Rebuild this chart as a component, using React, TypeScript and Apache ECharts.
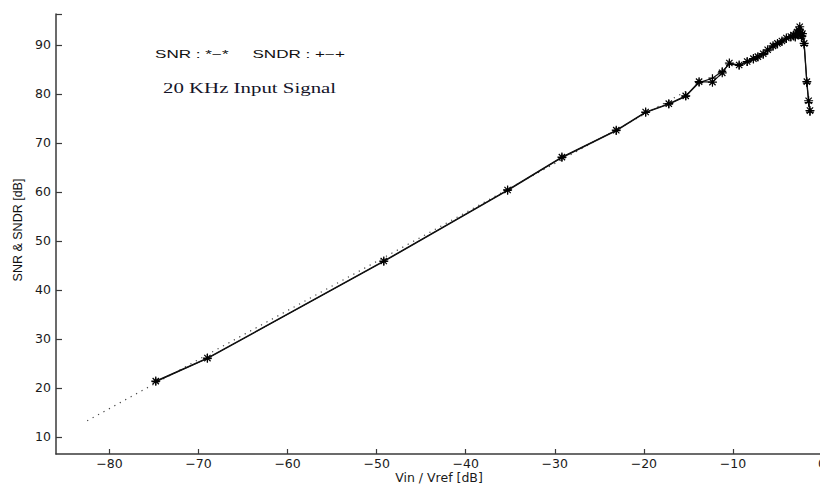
import React, { useEffect, useRef } from "react";
import * as echarts from "echarts";

// Input level Vin/Vref [dB]
const vin = [-74.8, -69.0, -49.2, -35.3, -29.2, -23.1, -19.8, -17.2, -15.3, -13.8, -12.3, -11.2, -10.4, -9.3, -8.4, -7.7, -7.2, -6.6, -6.1, -5.5, -5.0, -4.5, -4.0, -3.5, -3.2, -3.0, -2.8, -2.6, -2.5, -2.4, -2.3, -2.2, -2.0, -1.7, -1.5, -1.35];
// SNR [dB]  (*-*)
const snr = [21.4, 26.1, 45.9, 60.4, 67.1, 72.6, 76.3, 78.0, 79.6, 82.5, 82.4, 84.3, 86.3, 85.9, 86.6, 87.2, 87.6, 88.2, 89.0, 89.8, 90.3, 90.8, 91.4, 91.7, 92.0, 91.8, 92.6, 93.0, 93.7, 92.5, 91.8, 92.3, 90.3, 82.5, 78.6, 76.6];
// SNDR [dB] (+-+)
const sndr = [21.3, 26.0, 45.8, 60.3, 67.0, 72.5, 76.2, 77.9, 79.5, 82.3, 83.2, 84.6, 86.1, 85.8, 86.5, 87.0, 87.5, 88.0, 88.8, 89.6, 90.1, 90.6, 91.2, 91.5, 91.7, 91.5, 92.3, 92.6, 93.2, 92.0, 91.4, 91.8, 89.9, 82.2, 78.2, 76.3];
// Ideal (dotted) line
const idealX = [-82.5, -15.0];
const idealY = [13.3, 80.8];

const xTicks = [-80, -70, -60, -50, -40, -30, -20, -10, 0];
const yTicks = [10, 20, 30, 40, 50, 60, 70, 80, 90];
const xMin = -86;
const xMax = 0;
const yMin = 6.53;
const yMax = 96.3;

const ASTERISK = "path://M5,0L5,10M0,5L10,5M1.5,1.5L8.5,8.5M1.5,8.5L8.5,1.5";
const PLUS = "path://M5,0L5,10M0,5L10,5";

export default function App() {
  const ref = useRef<HTMLDivElement>(null);
  useEffect(() => {
    if (!ref.current) return;
    const chart = echarts.init(ref.current, null, { renderer: "svg" });
    const axisColor = "#3a3a3a";
    const minus = (v: number) => String(v).replace("-", "\u2212");
    chart.setOption({
      animation: false,
      backgroundColor: "#ffffff",
      grid: { left: 56, top: 14, width: 766, height: 440, containLabel: false, outerBoundsMode: "none" },
      xAxis: {
        type: "value",
        min: xMin,
        max: xMax,
        splitLine: { show: false },
        axisLine: { show: true, onZero: false, lineStyle: { color: axisColor, width: 1.5 } },
        axisTick: { show: true, inside: true, length: 5, customValues: xTicks, lineStyle: { color: axisColor, width: 1.2 } },
        axisLabel: {
          customValues: xTicks,
          formatter: minus,
          fontFamily: "DejaVu Sans",
          fontSize: 12.5,
          lineHeight: 13,
          color: "#1a1a1a",
          margin: 3,
        },
        name: "Vin / Vref [dB]",
        nameLocation: "middle",
        nameGap: 17,
        nameMoveOverlap: false,
        nameTextStyle: { fontFamily: "DejaVu Sans", fontSize: 12.5, color: "#1a1a1a", verticalAlign: "top", lineHeight: 13 },
      },
      yAxis: {
        type: "value",
        min: yMin,
        max: yMax,
        splitLine: { show: false },
        axisLine: { show: true, onZero: false, lineStyle: { color: axisColor, width: 1.5 } },
        axisTick: { show: true, inside: true, length: 6, customValues: [...yTicks, yMax], lineStyle: { color: axisColor, width: 1.2 } },
        axisLabel: {
          customValues: yTicks,
          fontFamily: "DejaVu Sans",
          fontSize: 12.5,
          color: "#1a1a1a",
          margin: 5,
        },
      },
      graphic: [
        {
          type: "text",
          x: 18,
          y: 230,
          rotation: Math.PI / 2,
          style: {
            text: "SNR & SNDR [dB]",
            fontFamily: "Liberation Sans",
            fontSize: 12.5,
            fill: "#111",
            align: "center",
            verticalAlign: "middle",
          },
        },
        {
          type: "text",
          x: 155,
          y: 54,
          scaleX: 1.45,
          style: {
            text: "SNR : *\u2212*     SNDR : +\u2212+",
            fontFamily: "Liberation Sans",
            fontSize: 11.8,
            fill: "#111",
            align: "left",
            verticalAlign: "middle",
          },
        },
        {
          type: "text",
          x: 163,
          y: 88,
          scaleX: 1.39,
          style: {
            text: "20 KHz Input Signal",
            fontFamily: "Liberation Serif",
            fontSize: 15,
            fill: "#141428",
            align: "left",
            verticalAlign: "middle",
          },
        },
      ],
      series: [
        {
          name: "ideal",
          type: "line",
          data: idealX.map((x, i) => [x, idealY[i]]),
          symbol: "none",
          lineStyle: { color: "#444", width: 1.2, type: [1.2, 5] },
          z: 1,
        },
        {
          name: "SNDR",
          type: "line",
          data: vin.map((x, i) => [x, sndr[i]]),
          symbol: PLUS,
          symbolSize: 8,
          symbolKeepAspect: true,
          itemStyle: { color: "#000", borderColor: "#000", borderWidth: 1.2 },
          lineStyle: { color: "#111", width: 1.2 },
          z: 2,
        },
        {
          name: "SNR",
          type: "line",
          data: vin.map((x, i) => [x, snr[i]]),
          symbol: ASTERISK,
          symbolSize: 9,
          symbolKeepAspect: true,
          itemStyle: { color: "#000", borderColor: "#000", borderWidth: 1.2 },
          lineStyle: { color: "#111", width: 1.2 },
          z: 3,
        },
      ],
    });
    return () => chart.dispose();
  }, []);
  return (
    <div
      ref={ref}
      style={{ position: "fixed", left: 0, top: 0, width: 820, height: 486, background: "#fff" }}
    />
  );
}
